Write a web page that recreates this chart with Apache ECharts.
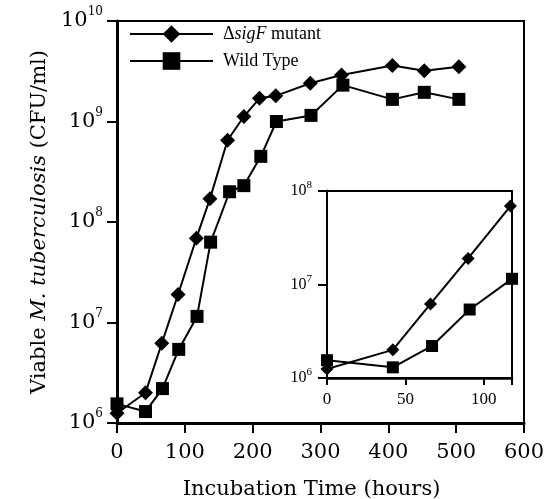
<!DOCTYPE html>
<html><head><meta charset="utf-8">
<script src="https://cdn.jsdelivr.net/npm/echarts@6/dist/echarts.min.js"></script>
<style>html,body{margin:0;padding:0;background:#fff}#c{width:546px;height:499px}</style>
</head><body><div id="c"></div>
<script>
// ---- data ----
const mutantHours = [0, 42, 66, 90, 117, 137, 163, 187, 210, 234, 285, 331, 406, 453, 504];
const mutantCFU   = [1.25e6, 2.0e6, 6.2e6, 1.9e7, 6.9e7, 1.7e8, 6.5e8, 1.12e9, 1.7e9, 1.8e9, 2.4e9, 2.9e9, 3.6e9, 3.2e9, 3.5e9];
const wildHours   = [0, 42, 67, 91, 118, 138, 166, 187, 212, 235, 286, 333, 406, 453, 504];
const wildCFU     = [1.55e6, 1.3e6, 2.2e6, 5.4e6, 1.15e7, 6.3e7, 2.0e8, 2.3e8, 4.5e8, 1.0e9, 1.15e9, 2.3e9, 1.66e9, 1.95e9, 1.66e9];
const xTicks      = [0, 100, 200, 300, 400, 500, 600];
const insetXTicks = [0, 50, 100];
const insetMaxHours = 118;
const seriesNames = ['ΔsigF mutant', 'Wild Type'];

function pairs(xs, ys, maxX) {
  const out = [];
  for (let i = 0; i < xs.length; i++) if (maxX === undefined || xs[i] <= maxX) out.push([xs[i], ys[i]]);
  return out;
}
const SERIF = 'DejaVu Serif';
const TIMES = 'Liberation Serif';
function powLabel(v) {
  const e = Math.round(Math.log10(v));
  return '{b|10}{s|' + e + '}';
}
const chart = echarts.init(document.getElementById('c'), null, {renderer: 'canvas'});
const black = '#000';
chart.setOption({
  animation: false,
  backgroundColor: '#fff',
  grid: [
    {left: 117, right: 22, top: 21, bottom: 76, show: true, borderWidth: 2, borderColor: black, backgroundColor: '#fff',
      containLabel: false, outerBoundsMode: 'none'},
    {left: 327, right: 34, top: 191, bottom: 121, show: true, borderWidth: 2, borderColor: black, backgroundColor: '#fff', z: 5,
      containLabel: false, outerBoundsMode: 'none'}
  ],
  legend: {
    data: seriesNames,
    orient: 'vertical',
    left: 129, top: 25, padding: 0,
    itemWidth: 83, itemHeight: 22, itemGap: 9,
    formatter: function (name) {
      return name === seriesNames[0] ? '{n|Δ}{i|sigF}{n| mutant}' : '{n|' + name + '}';
    },
    textStyle: {
      color: black, padding: [0, 0, 0, 5],
      rich: {
        n: {fontFamily: TIMES, fontSize: 18, color: black},
        i: {fontFamily: TIMES, fontSize: 18, fontStyle: 'italic', color: black}
      }
    }
  },
  xAxis: [
    {
      gridIndex: 0, type: 'value', min: 0, max: 600, interval: 100,
      name: 'Incubation Time (hours)', nameLocation: 'middle', nameGap: 56,
      nameTextStyle: {fontFamily: SERIF, fontSize: 21, color: black, padding: [0, 18, 0, 0]},
      axisLine: {lineStyle: {color: black, width: 3}},
      axisTick: {length: 10, lineStyle: {color: black, width: 2}},
      axisLabel: {margin: 19, fontFamily: SERIF, fontSize: 21, color: black,
        formatter: v => xTicks.indexOf(v) >= 0 ? String(v) : ''},
      splitLine: {show: false}
    },
    {
      gridIndex: 1, type: 'value', min: 0, max: insetMaxHours, interval: 50,
      axisLine: {lineStyle: {color: black, width: 2.5}},
      axisTick: {length: 7, lineStyle: {color: black, width: 2}},
      axisLabel: {margin: 13, fontFamily: TIMES, fontSize: 17, color: black,
        formatter: v => insetXTicks.indexOf(v) >= 0 ? String(v) : ''},
      splitLine: {show: false}
    }
  ],
  yAxis: [
    {
      gridIndex: 0, type: 'log', logBase: 10, min: 1e6, max: 1e10,
      name: '{n|Viable }{i|M. tuberculosis}{n| (CFU/ml)}', nameLocation: 'middle', nameGap: 66,
      nameTextStyle: {rich: {
        n: {fontFamily: SERIF, fontSize: 21, color: black},
        i: {fontFamily: SERIF, fontSize: 21, fontStyle: 'italic', color: black}
      }},
      axisLine: {lineStyle: {color: black, width: 3}},
      axisTick: {length: 10, lineStyle: {color: black, width: 2}},
      axisLabel: {margin: 14, color: black, formatter: powLabel, rich: {
        b: {fontFamily: SERIF, fontSize: 21, lineHeight: 30, color: black},
        s: {fontFamily: SERIF, fontSize: 12, lineHeight: 12, verticalAlign: 'top', color: black}
      }},
      splitLine: {show: false}, minorTick: {show: false}
    },
    {
      gridIndex: 1, type: 'log', logBase: 10, min: 1e6, max: 1e8,
      axisLine: {lineStyle: {color: black, width: 3}},
      axisTick: {length: 9, lineStyle: {color: black, width: 2}},
      axisLabel: {margin: 15, color: black, formatter: powLabel, rich: {
        b: {fontFamily: TIMES, fontSize: 16, lineHeight: 22, color: black},
        s: {fontFamily: TIMES, fontSize: 11, lineHeight: 11, verticalAlign: 'top', color: black}
      }},
      splitLine: {show: false}
    }
  ],
  series: [
    {name: seriesNames[0], type: 'line', xAxisIndex: 0, yAxisIndex: 0, data: pairs(mutantHours, mutantCFU),
      symbol: 'diamond', symbolSize: [15, 15], clip: false,
      lineStyle: {color: black, width: 2}, itemStyle: {color: black}},
    {name: seriesNames[1], type: 'line', xAxisIndex: 0, yAxisIndex: 0, data: pairs(wildHours, wildCFU),
      symbol: 'rect', symbolSize: 13, clip: false,
      lineStyle: {color: black, width: 2}, itemStyle: {color: black}},
    {name: 'inset-mutant', type: 'line', xAxisIndex: 1, yAxisIndex: 1, data: pairs(mutantHours, mutantCFU, insetMaxHours),
      symbol: 'diamond', symbolSize: [13, 13], clip: false, z: 6,
      lineStyle: {color: black, width: 2}, itemStyle: {color: black}},
    {name: 'inset-wild', type: 'line', xAxisIndex: 1, yAxisIndex: 1, data: pairs(wildHours, wildCFU, insetMaxHours),
      symbol: 'rect', symbolSize: 12, clip: false, z: 6,
      lineStyle: {color: black, width: 2}, itemStyle: {color: black}}
  ]
});
</script></body></html>
